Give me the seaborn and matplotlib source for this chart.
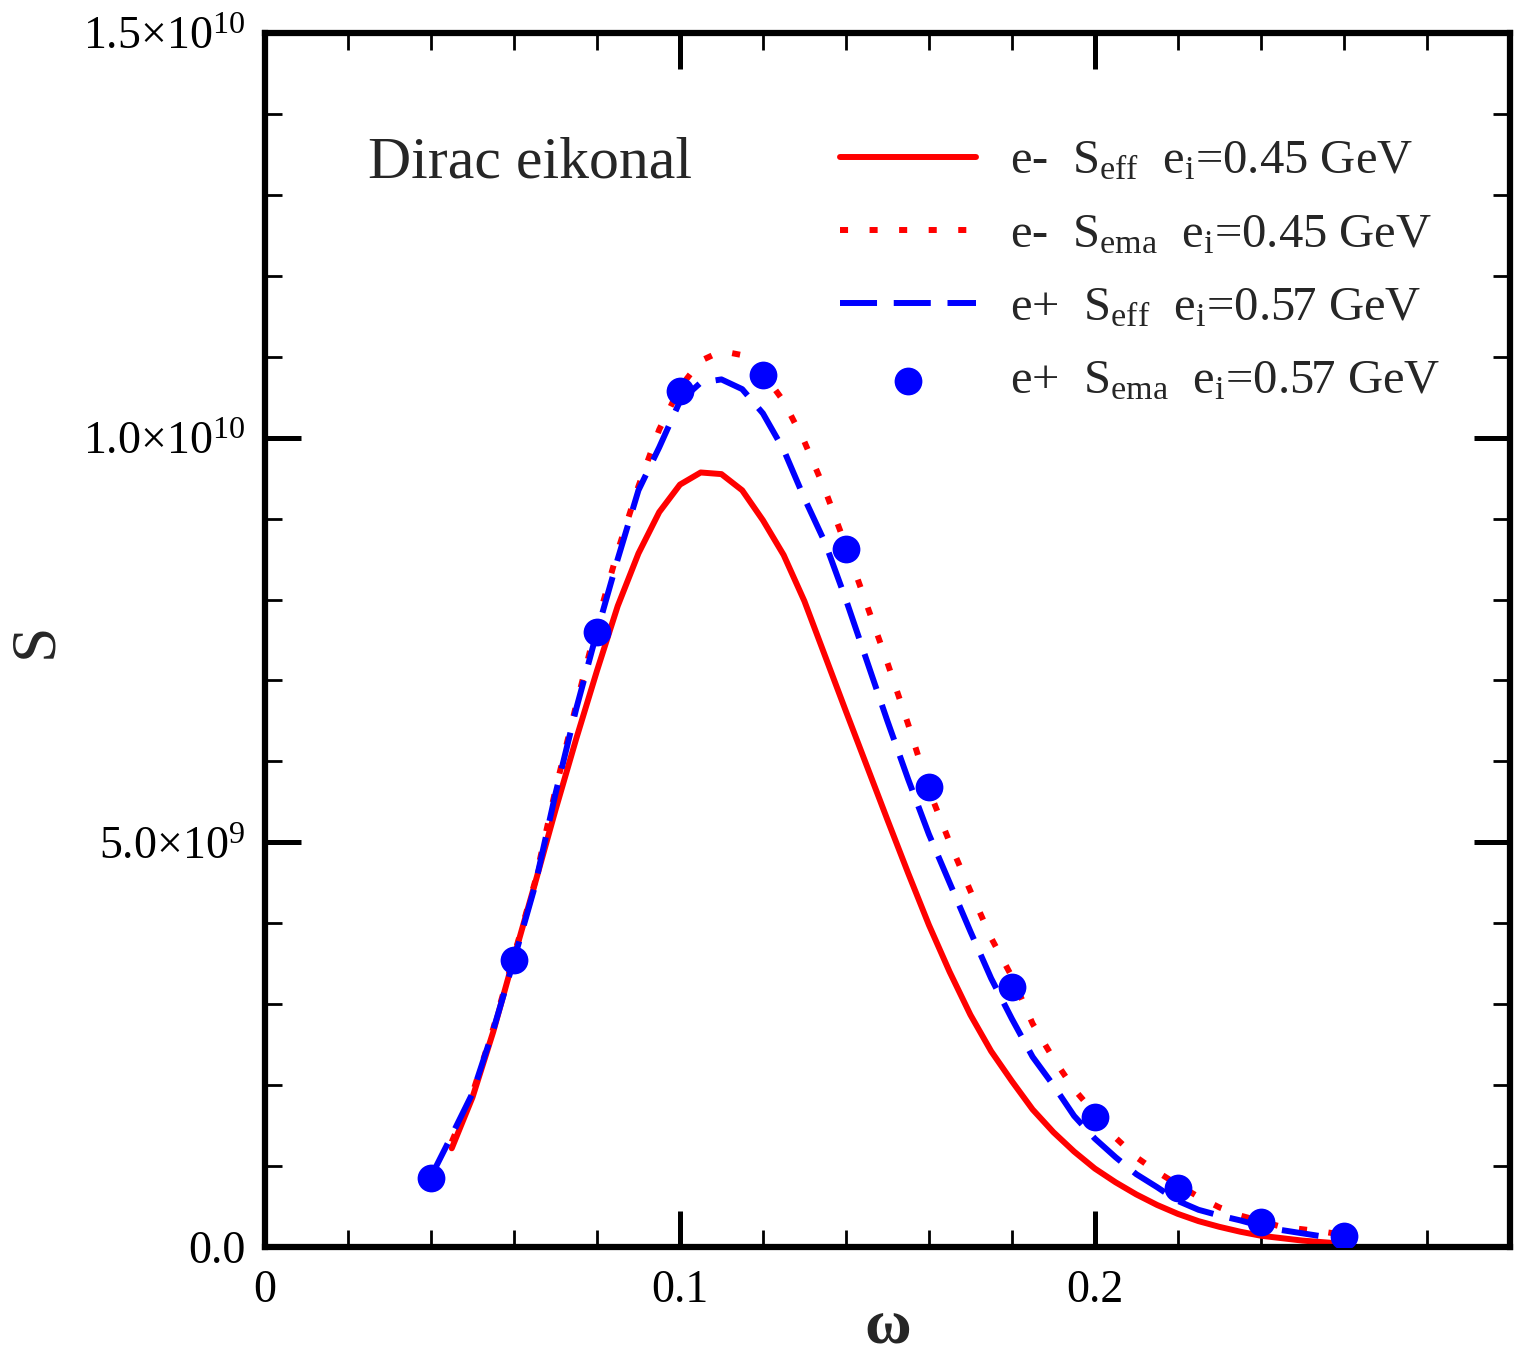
import matplotlib
matplotlib.use('Agg')
import matplotlib.pyplot as plt
from matplotlib.ticker import MultipleLocator
import numpy as np
import pandas as pd
import seaborn as sns

# omega grid of the curves
omega_e = [0.045, 0.050, 0.055, 0.060, 0.065, 0.070, 0.075, 0.080, 0.085,
           0.090, 0.095, 0.100, 0.105, 0.110, 0.115, 0.120, 0.125, 0.130,
           0.135, 0.140, 0.145, 0.150, 0.155, 0.160, 0.165, 0.170, 0.175,
           0.180, 0.185, 0.190, 0.195, 0.200, 0.205, 0.210, 0.215, 0.220,
           0.225, 0.230, 0.235, 0.240, 0.245, 0.250, 0.255, 0.260]
omega_p = [0.040] + omega_e

# S values in units of 1e9
s_eff_em = [1.22, 1.85, 2.66, 3.58, 4.48, 5.40, 6.28, 7.12, 7.92,
            8.57, 9.08, 9.42, 9.57, 9.55, 9.35, 8.98, 8.55, 7.98,
            7.30, 6.62, 5.95, 5.28, 4.62, 3.98, 3.40, 2.87, 2.42,
            2.05, 1.70, 1.42, 1.18, 0.97, 0.80, 0.65, 0.52, 0.41,
            0.32, 0.25, 0.19, 0.14, 0.11, 0.08, 0.06, 0.04]
s_ema_em = [1.30, 1.90, 2.70, 3.60, 4.50, 5.65, 6.70, 7.70, 8.60,
            9.40, 10.10, 10.62, 10.95, 11.07, 11.02, 10.80, 10.45, 9.95,
            9.35, 8.66, 7.94, 7.22, 6.46, 5.65, 5.00, 4.40, 3.82,
            3.34, 2.76, 2.33, 1.95, 1.65, 1.35, 1.11, 0.93, 0.77,
            0.62, 0.49, 0.39, 0.32, 0.25, 0.22, 0.19, 0.15]
s_eff_ep = [0.87, 1.38, 1.90, 2.68, 3.55, 4.45, 5.60, 6.65, 7.60, 8.50,
            9.35, 9.88, 10.45, 10.68, 10.72, 10.60, 10.30, 9.85, 9.25,
            8.70, 8.00, 7.25, 6.50, 5.78, 5.10, 4.50, 3.90, 3.32,
            2.82, 2.35, 2.00, 1.62, 1.34, 1.11, 0.90, 0.74, 0.57,
            0.46, 0.39, 0.33, 0.26, 0.21, 0.17, 0.13, 0.10]

# e+ S_ema points
omega_pts = [0.04, 0.06, 0.08, 0.10, 0.12, 0.14, 0.16, 0.18, 0.20, 0.22,
             0.24, 0.26]
s_ema_ep = [0.85, 3.55, 7.60, 10.58, 10.77, 8.63, 5.69, 3.21, 1.61, 0.73,
            0.31, 0.14]

labels = [r'e-  S$_{\rm eff}$  e$_{\rm i}$=0.45 GeV',
          r'e-  S$_{\rm ema}$  e$_{\rm i}$=0.45 GeV',
          r'e+  S$_{\rm eff}$  e$_{\rm i}$=0.57 GeV',
          r'e+  S$_{\rm ema}$  e$_{\rm i}$=0.57 GeV']

sns.set_style('ticks')
plt.rcParams['font.family'] = ['Liberation Serif', 'DejaVu Serif']
plt.rcParams['mathtext.fontset'] = 'custom'
plt.rcParams['mathtext.rm'] = 'Liberation Serif'
plt.rcParams['mathtext.it'] = 'Liberation Serif:italic'

f, ax = plt.subplots(figsize=(15.25, 13.58), dpi=100)
f.subplots_adjust(left=0.1738, right=0.990, bottom=0.0817, top=0.9757)

lw = 4.3
sns.lineplot(x=omega_e, y=np.array(s_eff_em) * 1e9, ax=ax, color='#ff0000',
             lw=lw, label=labels[0])
sns.lineplot(x=omega_e, y=np.array(s_ema_em) * 1e9, ax=ax, color='#ff0000',
             lw=lw, linestyle=(0, (1.35, 3.6)), label=labels[1])
sns.lineplot(x=omega_p, y=np.array(s_eff_ep) * 1e9, ax=ax, color='#0000ff',
             lw=lw, linestyle=(0, (6.2, 2.8)), label=labels[2])
sns.scatterplot(x=omega_pts, y=np.array(s_ema_ep) * 1e9, ax=ax,
                color='#0000ff', s=400, linewidth=0, label=labels[3],
                zorder=5)

# axes limits and ticks
ax.set_xlim(0, 0.3)
ax.set_ylim(0, 1.5e10)
ax.set_xticks([0, 0.1, 0.2])
ax.set_xticklabels(['0', '0.1', '0.2'])
ax.xaxis.set_minor_locator(MultipleLocator(0.02))
ax.set_yticks([0, 5e9, 1e10, 1.5e10])
ax.set_yticklabels(['0.0', r'5.0×10$^{9}$', r'1.0×10$^{10}$',
                    r'1.5×10$^{10}$'])
ax.yaxis.set_minor_locator(MultipleLocator(1e9))
ax.tick_params(which='both', direction='in', top=True, right=True,
               labelsize=33, colors='black')
ax.tick_params(which='major', length=26, width=3.6)
ax.tick_params(which='minor', length=12, width=2.0)
ax.tick_params(axis='x', which='major', pad=16)
ax.tick_params(axis='y', which='major', pad=14)
for sp in ax.spines.values():
    sp.set_linewidth(4.5)
    sp.set_color('black')

ax.set_xlabel('ω', fontsize=46, fontweight='bold', va='center')
ax.xaxis.set_label_coords(0.5, -0.067)
ax.set_ylabel('S', fontsize=46, va='center')
ax.yaxis.set_label_coords(-0.184, 0.5)

ax.text(0.0827, 0.8806, 'Dirac eikonal', transform=ax.transAxes,
        fontsize=43, va='baseline', ha='left')

ax.legend(loc='upper left', bbox_to_anchor=(0.462, 0.912), frameon=False,
          fontsize=35, handlelength=2.8, handletextpad=0.7,
          labelspacing=0.6, borderpad=0, borderaxespad=0, markerscale=1)

plt.savefig('out.png', dpi=100, facecolor='white')
